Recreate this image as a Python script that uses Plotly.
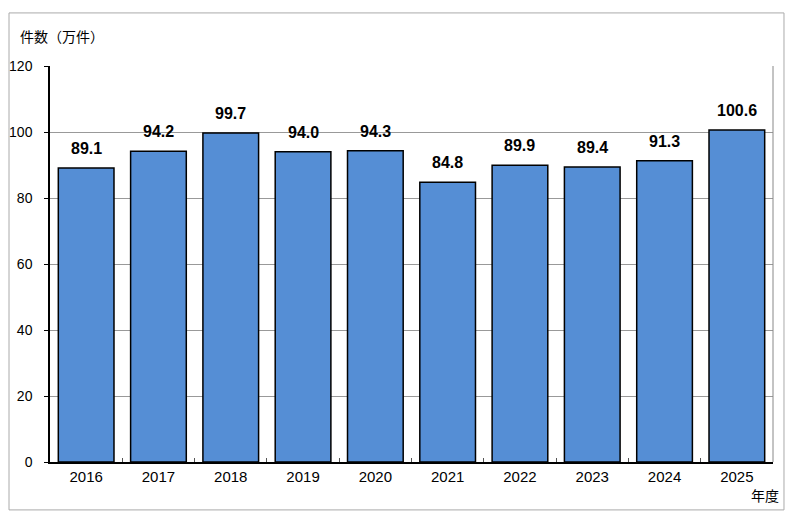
import plotly.graph_objects as go

years = ["2016", "2017", "2018", "2019", "2020", "2021", "2022", "2023", "2024", "2025"]
counts = [89.1, 94.2, 99.7, 94.0, 94.3, 84.8, 89.9, 89.4, 91.3, 100.6]
y_ticks = [0, 20, 40, 60, 80, 100, 120]

CJK = "Noto Sans CJK JP, sans-serif"
NUM = "Liberation Sans, Noto Sans CJK JP, sans-serif"

fig = go.Figure()
fig.add_trace(
    go.Bar(
        x=years,
        y=counts,
        marker={"color": "#558ED5", "line": {"color": "#000000", "width": 1.5}},
        hoverinfo="x+y",
    )
)

# value labels above each bar (category index used as x position)
for i, v in enumerate(counts):
    fig.add_annotation(
        x=i, y=v, text=f"{v:.1f}", showarrow=False,
        yanchor="bottom", yshift=9,
        font={"family": NUM, "size": 16, "color": "#000000", "weight": "bold"},
    )

# axis captions
fig.add_annotation(
    x=-0.044, y=1.075, xref="paper", yref="paper", text="件数（万件）",
    showarrow=False, xanchor="left", yanchor="middle",
    font={"family": CJK, "size": 14, "color": "#000000"},
)
fig.add_annotation(
    x=1.011, y=-0.083, xref="paper", yref="paper", text="年度",
    showarrow=False, xanchor="right", yanchor="middle",
    font={"family": CJK, "size": 14, "color": "#000000"},
)

# outer frame and right edge of the plot area
fig.add_shape(type="rect", xref="paper", yref="paper",
              x0=-0.0567, x1=1.0152, y0=-0.121, y1=1.134,
              line={"color": "#AAAAAA", "width": 1})
fig.add_shape(type="line", xref="paper", yref="paper",
              x0=1, x1=1, y0=0, y1=1,
              line={"color": "#888888", "width": 1})

fig.update_xaxes(
    type="category", automargin=False,
    showline=True, linecolor="#000000", linewidth=1.5,
    ticks="inside", tickson="boundaries", ticklen=4, tickcolor="#555555",
    tickfont={"family": NUM, "size": 15, "color": "#000000"},
    showgrid=False,
)
fig.update_yaxes(
    range=[0, 120], tickvals=y_ticks, automargin=False,
    showline=True, linecolor="#000000", linewidth=1.5,
    ticks="outside", ticklen=4, tickcolor="#000000",
    ticklabelstandoff=9,
    showgrid=True, gridcolor="#999999", gridwidth=1,
    zeroline=False,
    tickfont={"family": NUM, "size": 14, "color": "#000000"},
)

# page body adds an 8px offset, so margins are trimmed on the left/top
fig.update_layout(
    width=800, height=532,
    margin={"l": 42, "r": 35, "t": 58, "b": 78},
    plot_bgcolor="#FFFFFF", paper_bgcolor="#FFFFFF",
    bargap=0.23,
    showlegend=False,
    font={"family": CJK},
)

fig.write_html("out.html")
